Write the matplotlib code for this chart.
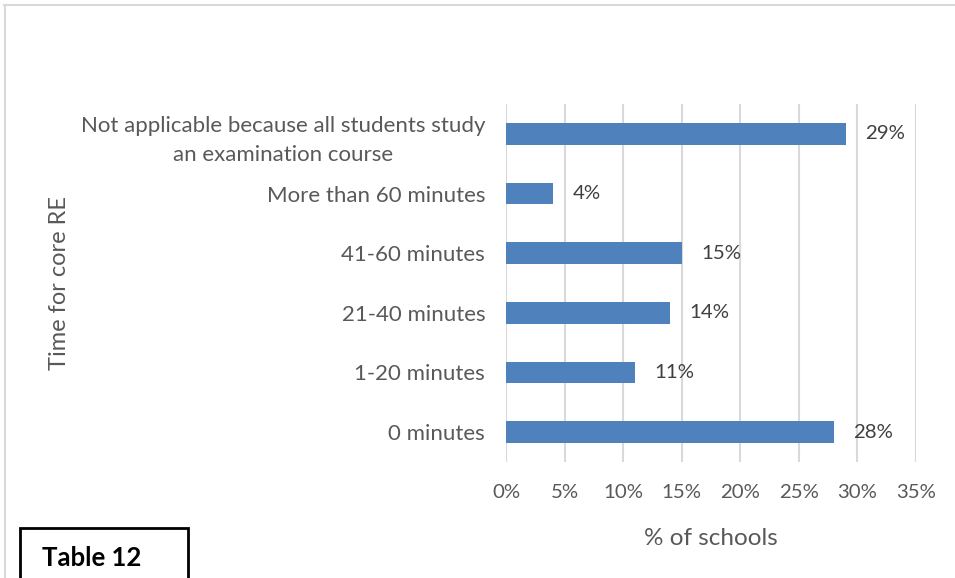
import matplotlib
matplotlib.use("Agg")
import matplotlib.pyplot as plt
from matplotlib.patches import Rectangle
from matplotlib.lines import Line2D

plt.rcParams['font.family'] = ['Lato', 'DejaVu Sans']

categories = [
    "0 minutes",
    "1-20 minutes",
    "21-40 minutes",
    "41-60 minutes",
    "More than 60 minutes",
    "Not applicable because all students study\nan examination course",
]
values = [28, 11, 14, 15, 4, 29]
x_ticks = [0, 5, 10, 15, 20, 25, 30, 35]
x_tick_labels = [f"{t}%" for t in x_ticks]

bar_color = "#4F81BD"
text_color = "#595959"
grid_color = "#D9D9D9"

fig = plt.figure(figsize=(9.55, 5.78), dpi=100)
ax = fig.add_axes([506 / 955, 1 - 462 / 578, 410 / 955, 358 / 578])

y = list(range(len(categories)))
ax.barh(y, values, height=0.36, color=bar_color, zorder=3)

for yi, v in zip(y, values):
    ax.annotate(f"{v}%", xy=(v, yi), xytext=(14, 0), textcoords="offset points",
                va="center", ha="left", fontsize=14.7, color="#404040")

ax.set_xlim(0, 35)
ax.set_ylim(-0.5, len(categories) - 0.5)
ax.set_xticks(x_ticks)
ax.set_xticklabels(x_tick_labels, fontsize=14.7, color=text_color)
ax.set_yticks(y)
ax.set_yticklabels(categories, fontsize=16, color=text_color, ha="right",
                   multialignment="center", linespacing=1.55)
ax.tick_params(axis="y", length=0, pad=15)
ax.tick_params(axis="x", length=0, pad=16)
ax.xaxis.grid(True, color=grid_color, linewidth=1.5, zorder=0)
for side in ax.spines.values():
    side.set_visible(False)

ax.set_xlabel("% of schools", fontsize=17.5, color=text_color, labelpad=19)
fig.text(60 / 955, 1 - 283 / 578, "Time for core RE", rotation=90,
         fontsize=17, color=text_color, ha="center", va="center")

# chart frame (top and left edges)
fig.add_artist(Line2D([4 / 955, 1.0], [1 - 4.5 / 578] * 2, color=grid_color,
                      linewidth=1.5, transform=fig.transFigure))
fig.add_artist(Line2D([4.5 / 955] * 2, [0, 1 - 4.5 / 578], color=grid_color,
                      linewidth=1.5, transform=fig.transFigure))

# caption box
fig.add_artist(Rectangle((20 / 955, -0.02), 168 / 955, (578 - 528) / 578 + 0.02,
                         transform=fig.transFigure, fill=False,
                         edgecolor="black", linewidth=2))
fig.text(42 / 955, 1 - 558 / 578, "Table 12", fontsize=18.5, fontweight="bold",
         color="black", ha="left", va="center")

fig.savefig("out.png", dpi=100)
